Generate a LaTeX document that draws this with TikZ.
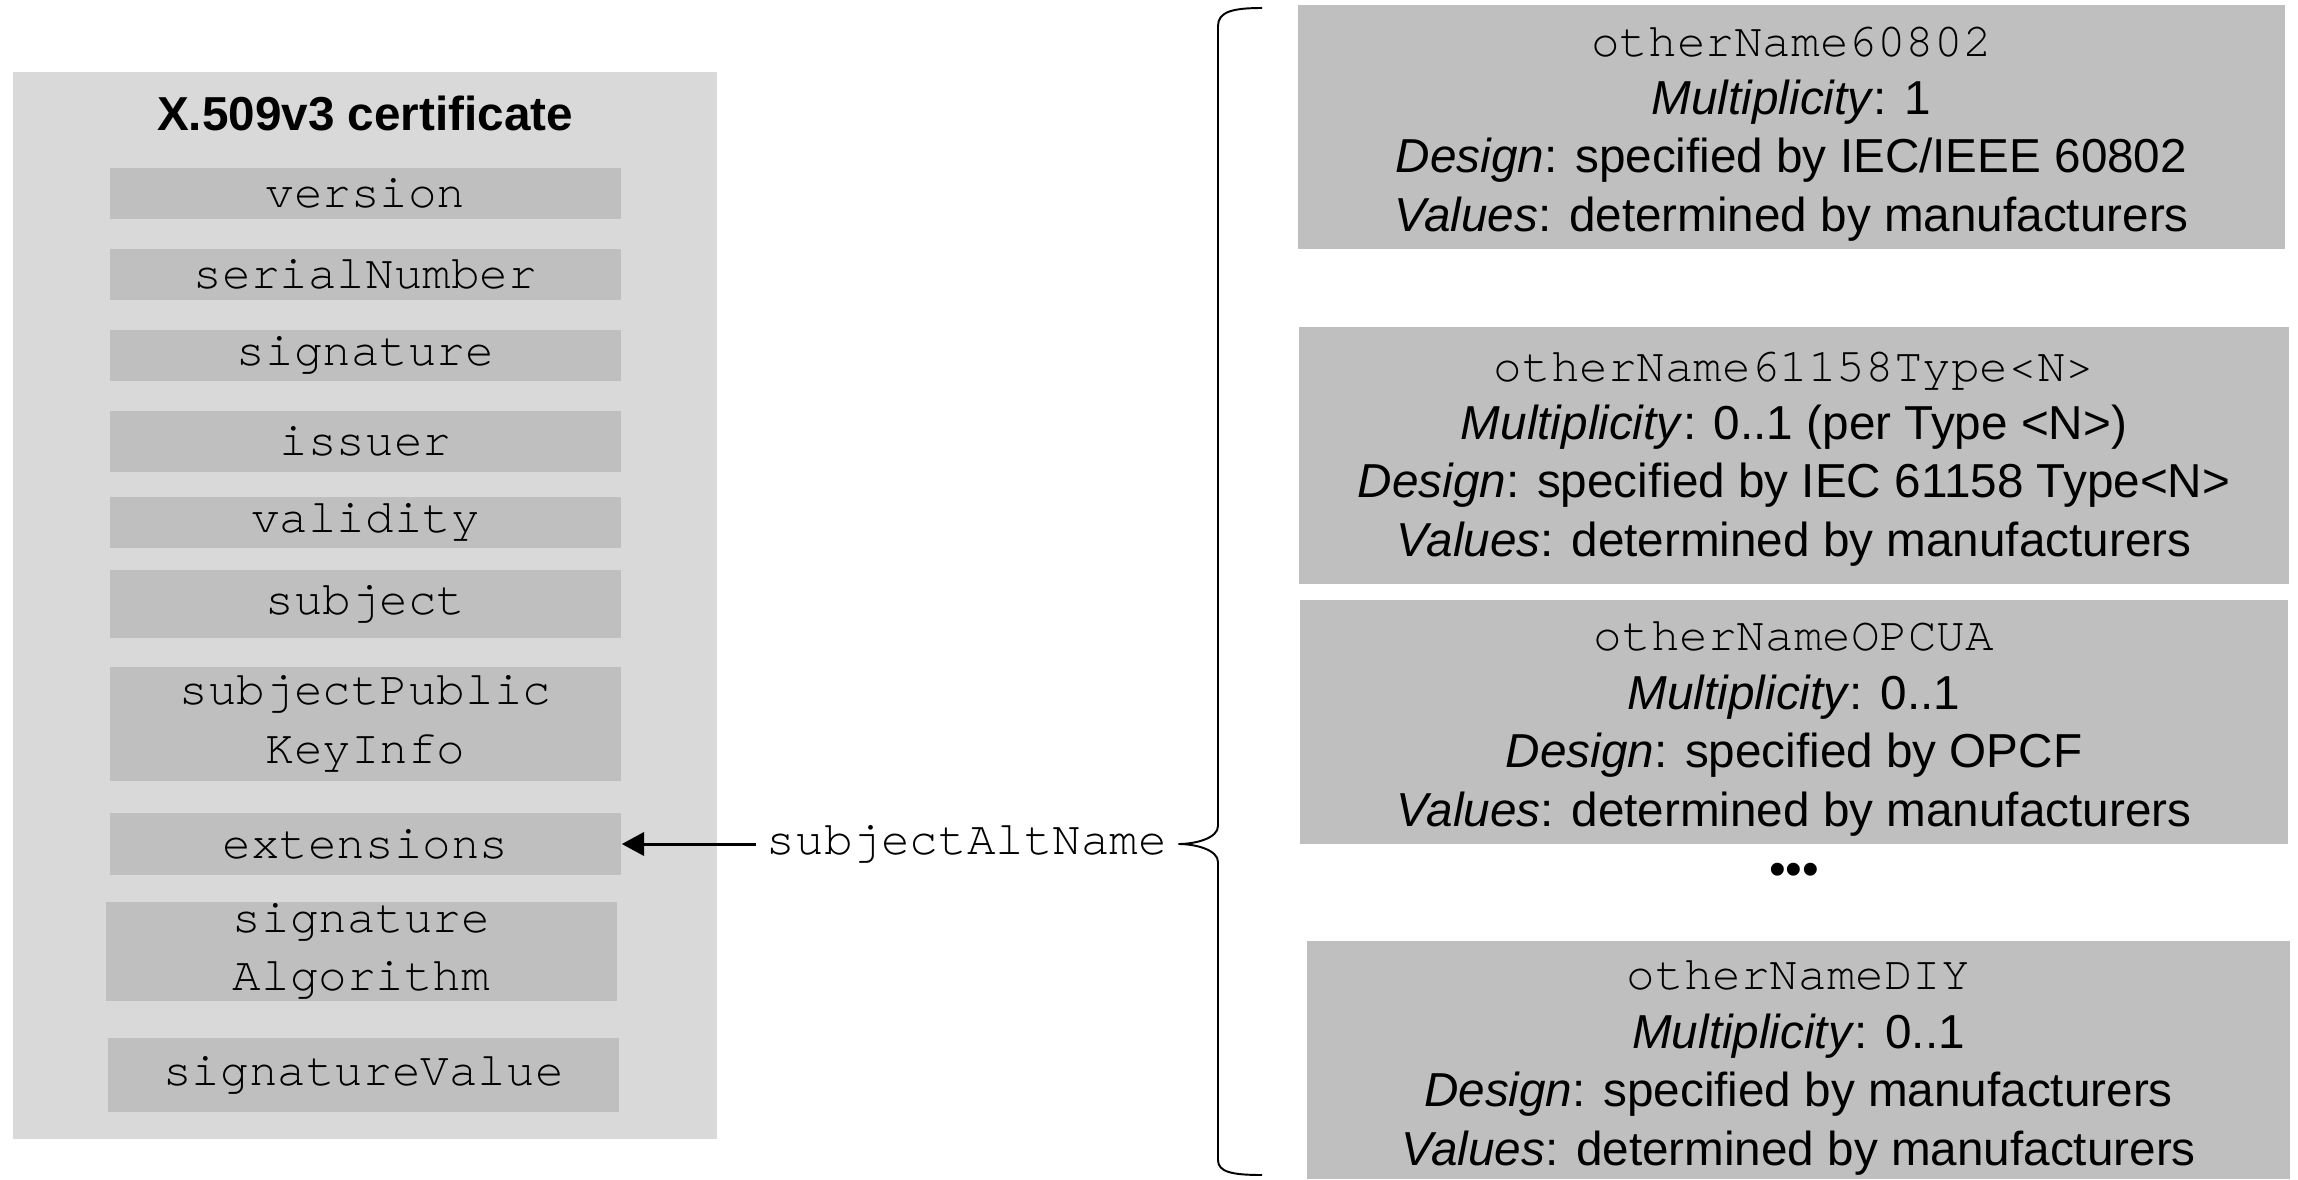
\documentclass[tikz,border=0pt]{standalone}
\usepackage{fontspec}
\setmainfont{Liberation Sans}
\setmonofont{TeX Gyre Cursor}
\usetikzlibrary{arrows.meta}
\definecolor{outerbg}{HTML}{D9D9D9}
\definecolor{fieldbg}{HTML}{BFBFBF}
\newcommand\fsz{\fontsize{13.55pt}{16.6pt}\selectfont}
\begin{document}
\begin{tikzpicture}[x=0.01cm,y=-0.01cm,
  field/.style={fill=fieldbg, draw=none, inner sep=0pt, align=center,
    font=\fsz\ttfamily, minimum width=5.11cm},
  infobox/.style={fill=fieldbg, draw=none, inner sep=0pt},
  infotext/.style={inner sep=0pt, align=center, font=\fsz},
  conn/.style={line width=0.85pt, -{Triangle[length=6.3pt,width=6.6pt]}},
  bracestyle/.style={line width=0.55pt}]
\fill[white] (0,0) rectangle (2298,1179);
\useasboundingbox (0,0) rectangle (2298,1179);

% certificate container
\node[fill=outerbg, draw=none, minimum width=7.04cm, minimum height=10.67cm, inner sep=0pt] (cert) at (365,605.5) {};
\node[font=\fsz\bfseries, anchor=base, inner sep=0pt] (title) at (365,130.7) {X.509v3 certificate};

\node[field, minimum height=0.51cm] (version) at (365.5,193.5) {version};
\node[field, minimum height=0.51cm] (serial) at (365.5,274.5) {serialNumber};
\node[field, minimum height=0.51cm] (sig) at (365.5,355.5) {signature};
\node[field, minimum height=0.61cm] (issuer) at (365.5,441.5) {issuer};
\node[field, minimum height=0.51cm] (validity) at (365.5,522.5) {validity};
\node[field, minimum height=0.68cm] (subject) at (365.5,604) {subject};
\node[field, minimum height=1.14cm] (spki) at (365.5,724) {subjectPublic\\KeyInfo};
\node[field, minimum height=0.61cm] (ext) at (365.5,844) {extensions};
\node[field, minimum height=0.99cm] (sigalg) at (361.5,951.5) {signature\\Algorithm};
\node[field, minimum height=0.74cm] (sigval) at (363.5,1075) {signatureValue};

% subjectAltName
\node[font=\fsz\ttfamily, inner sep=3pt] (san) at (967,844) {subjectAltName};
\draw[conn] (san.west) -- (ext.east);

% brace
\coordinate (btop) at (1262,8);
\coordinate (bbot) at (1262,1175);
\draw[bracestyle] (btop) .. controls (1232,8) and (1218,12) .. (1218,26)
  -- (1218,826) .. controls (1218,838) and (1196,844) .. (san.east)
  .. controls (1196,844) and (1218,850) .. (1218,862)
  -- (1218,1160) .. controls (1218,1172) and (1232,1175) .. (bbot);

% right boxes
\node[infobox, minimum width=9.87cm, minimum height=2.44cm] (on1) at (1791.5,127) {};
\node[infotext] (on1t) at (1791.5,134)
  {\texttt{otherName60802}\\\textit{Multiplicity}: 1\\\textit{Design}: specified by IEC/IEEE 60802\\\textit{Values}: determined by manufacturers};
\node[infobox, minimum width=9.90cm, minimum height=2.57cm] (on2) at (1794,455.5) {};
\node[infotext] (on2t) at (1794,459)
  {\texttt{otherName61158Type<N>}\\\textit{Multiplicity}: 0..1 (per Type <N>)\\\textit{Design}: specified by IEC 61158 Type<N>\\\textit{Values}: determined by manufacturers};
\node[infobox, minimum width=9.88cm, minimum height=2.44cm] (on3) at (1794,722) {};
\node[infotext] (on3t) at (1794,729)
  {\texttt{otherNameOPCUA}\\\textit{Multiplicity}: 0..1\\\textit{Design}: specified by OPCF\\\textit{Values}: determined by manufacturers};
\node[font=\fsz, anchor=base, inner sep=0pt] (dots) at (1794,885) {•••};
\node[infobox, minimum width=9.83cm, minimum height=2.38cm] (on4) at (1798.5,1060) {};
\node[infotext] (on4t) at (1798.5,1068)
  {\texttt{otherNameDIY}\\\textit{Multiplicity}: 0..1\\\textit{Design}: specified by manufacturers\\\textit{Values}: determined by manufacturers};
\end{tikzpicture}
\end{document}
